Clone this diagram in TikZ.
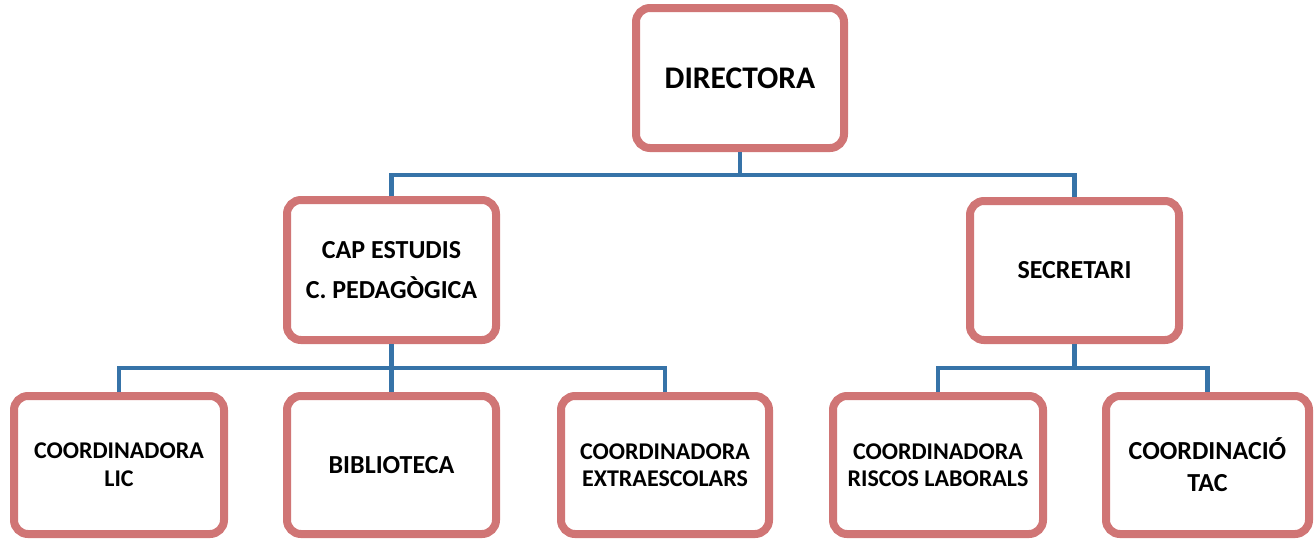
\documentclass[tikz,border=0pt]{standalone}
\usepackage{fontspec}
\setmainfont{Carlito}
\definecolor{boxpink}{RGB}{208,117,117}
\definecolor{linkblue}{RGB}{54,115,168}
\begin{document}
\begin{tikzpicture}[x=1pt,y=-1pt,
  orgbox/.style={draw=boxpink, line width=8pt, rounded corners=14pt, fill=white,
    inner sep=0pt, minimum width=209pt, minimum height=138pt, align=center, font=\bfseries},
  link/.style={draw=linkblue, line width=4.5pt}]
\useasboundingbox (0,0) rectangle (1314,539);
\node[orgbox, minimum width=208pt, minimum height=140pt, font=\bfseries\fontsize{31.5}{36}\selectfont] (dir) at (740,78) {DIRECTORA};
\node[orgbox, minimum height=140pt, font=\bfseries\fontsize{26}{40}\selectfont] (cap) at (391.5,270) {CAP ESTUDIS\\C. PEDAGÒGICA};
\node[orgbox, minimum height=139pt, font=\bfseries\fontsize{26}{32}\selectfont] (sec) at (1074.5,270.5) {SECRETARI};
\node[orgbox, minimum width=210pt, font=\bfseries\fontsize{24}{28}\selectfont] (lic) at (119,465) {COORDINADORA\\LIC};
\node[orgbox, font=\bfseries\fontsize{26}{32}\selectfont] (bib) at (391.5,465) {BIBLIOTECA};
\node[orgbox, minimum width=208pt, font=\bfseries\fontsize{24}{27}\selectfont] (ext) at (665,465) {COORDINADORA\\EXTRAESCOLARS};
\node[orgbox, minimum width=210pt, font=\bfseries\fontsize{24}{27}\selectfont] (ris) at (938,465) {COORDINADORA\\RISCOS LABORALS};
\node[orgbox, minimum width=203pt, font=\bfseries\fontsize{26}{32}\selectfont] (tac) at (1207.5,465) {COORDINACIÓ\\TAC};
\coordinate (b1) at (740,175);
\coordinate (b2) at (391.5,368);
\coordinate (b3) at (1074.5,368);
\draw[link] (dir.south) -- (b1);
\draw[link] (cap.north) |- (b1) -| (sec.north);
\draw[link] (cap.south) -- (bib.north);
\draw[link] (lic.north) |- (b2) -| (ext.north);
\draw[link] (sec.south) -- (b3);
\draw[link] (ris.north) |- (b3) -| (tac.north);
\end{tikzpicture}
\end{document}
